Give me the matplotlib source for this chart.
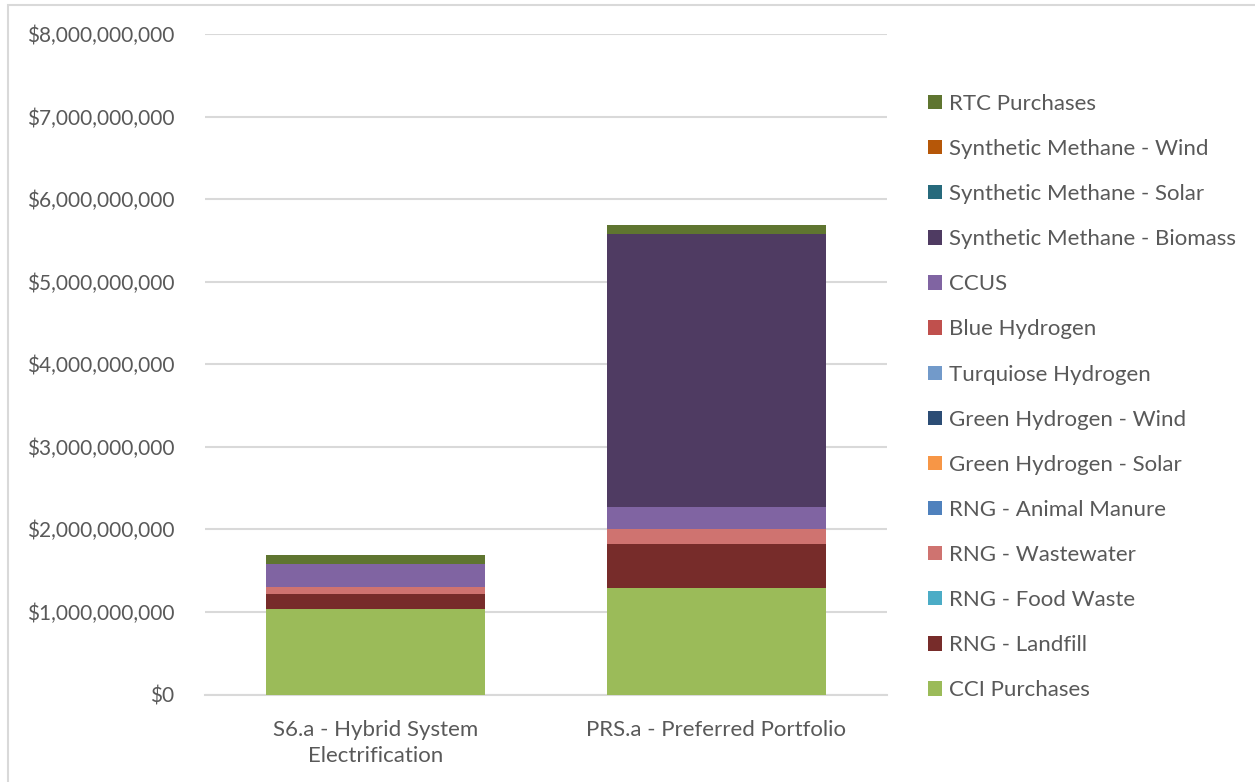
import matplotlib
matplotlib.use("Agg")
import matplotlib.pyplot as plt
from matplotlib.ticker import FuncFormatter, MultipleLocator
from matplotlib.patches import Rectangle, Patch

plt.rcParams['font.family'] = ['Lato', 'DejaVu Sans']

scenarios = ["S6.a - Hybrid System\nElectrification", "PRS.a - Preferred Portfolio"]

series_names = [
    "CCI Purchases",
    "RNG - Landfill",
    "RNG - Food Waste",
    "RNG - Wastewater",
    "RNG - Animal Manure",
    "Green Hydrogen - Solar",
    "Green Hydrogen - Wind",
    "Turquiose Hydrogen",
    "Blue Hydrogen",
    "CCUS",
    "Synthetic Methane - Biomass",
    "Synthetic Methane - Solar",
    "Synthetic Methane - Wind",
    "RTC Purchases",
]

# Cost per resource, dollars, one value per scenario
cci_purchases = [1.032e9, 1.286e9]
rng_landfill = [0.182e9, 0.541e9]
rng_food_waste = [0.0, 0.0]
rng_wastewater = [0.092e9, 0.174e9]
rng_animal_manure = [0.0, 0.0]
green_h2_solar = [0.0, 0.0]
green_h2_wind = [0.0, 0.0]
turquoise_h2 = [0.0, 0.0]
blue_h2 = [0.0, 0.0]
ccus = [0.275e9, 0.274e9]
synth_methane_biomass = [0.0, 3.303e9]
synth_methane_solar = [0.0, 0.0]
synth_methane_wind = [0.0, 0.0]
rtc_purchases = [0.113e9, 0.112e9]

series_values = [
    cci_purchases, rng_landfill, rng_food_waste, rng_wastewater,
    rng_animal_manure, green_h2_solar, green_h2_wind, turquoise_h2,
    blue_h2, ccus, synth_methane_biomass, synth_methane_solar,
    synth_methane_wind, rtc_purchases,
]

colors = [
    "#9BBB59", "#772C2A", "#4BACC6", "#CF7370", "#4F81BD", "#F79646",
    "#2C4D75", "#729ACA", "#C0504D", "#8064A2", "#4F3B62", "#276A7C",
    "#B65708", "#5F7530",
]

text_color = "#595959"

fig = plt.figure(figsize=(12.55, 7.82), dpi=100)
ax = fig.add_axes([205 / 1255, 1 - 694.5 / 782, 682 / 1255, (694.5 - 34) / 782])

x = list(range(len(scenarios)))
bottom = [0.0] * len(scenarios)
for name, vals, col in zip(series_names, series_values, colors):
    ax.bar(x, vals, bottom=bottom, width=0.645, color=col, label=name,
           linewidth=0, zorder=3)
    bottom = [b + v for b, v in zip(bottom, vals)]

ax.set_xlim(-0.5, 1.5)
ax.set_ylim(0, 8e9)
ax.yaxis.set_major_locator(MultipleLocator(1e9))
ax.yaxis.set_major_formatter(FuncFormatter(lambda v, p: f"${v:,.0f}"))
ax.grid(axis="y", color="#D9D9D9", linewidth=1.5, zorder=0)
ax.set_axisbelow(True)
for s in ax.spines.values():
    s.set_visible(False)
ax.spines["bottom"].set_visible(True)
ax.spines["bottom"].set_color("#D9D9D9")
ax.spines["bottom"].set_linewidth(1.5)
ax.tick_params(axis="both", length=0, colors=text_color)
ax.tick_params(axis="y", pad=22, labelsize=15)
ax.tick_params(axis="x", pad=18, labelsize=16)
ax.set_xticks(x)
ax.set_xticklabels(scenarios, linespacing=1.4)

handles = [Patch(facecolor=c, edgecolor="none") for c in colors]
leg = fig.legend(handles[::-1], series_names[::-1], loc="upper left",
                 bbox_to_anchor=(919 / 1255, 1 - 85 / 782), frameon=False,
                 fontsize=16, handlelength=0.62, handleheight=0.62,
                 handletextpad=0.35, labelspacing=1.13, borderaxespad=0)
for t in leg.get_texts():
    t.set_color(text_color)

# outer chart frame
fig.patches.append(Rectangle((8 / 1255, -0.1), 1.2, 1 - 5 / 782 + 0.1,
                             transform=fig.transFigure, fill=False,
                             edgecolor="#D9D9D9", linewidth=1.5))

fig.savefig("out.png", dpi=100, facecolor="white")
